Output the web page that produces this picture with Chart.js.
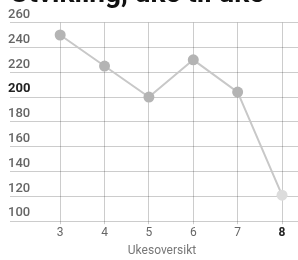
<!DOCTYPE html>
<html>
<head>
<meta charset="utf-8">
<script src="https://cdn.jsdelivr.net/npm/chart.js@4.4.1/dist/chart.umd.min.js"></script>
<style>
  html, body { margin: 0; padding: 0; background: #fff; overflow: hidden; }
  #wrap { position: absolute; left: 0; top: -22px; width: 298px; height: 282px; }
</style>
</head>
<body>
<div id="wrap"><canvas id="chart"></canvas></div>
<script>
const weeks = [3, 4, 5, 6, 7, 8]
const values = [250, 225, 200, 230, 204, 121]
const yTicks = [100, 120, 140, 160, 180, 200, 220, 240, 260]
const title = 'Utvikling, uke til uke'
const xTitle = 'Ukesoversikt'

const grid = 'rgba(0,0,0,0.2)'
const muted = '#666'
const strong = '#222'

new Chart(document.getElementById('chart'), {
  type: 'line',
  data: {
    datasets: [
      {
        label: title,
        data: weeks.map((w, i) => ({ x: w, y: values[i] })),
        borderColor: '#c8c8c8',
        borderWidth: 2,
        pointRadius: 5.5,
        pointBackgroundColor: (ctx) => (ctx.dataIndex === weeks.length - 1 ? '#dcdcdc' : '#b4b4b4'),
        pointBorderWidth: 0,
        tension: 0,
        clip: false,
      },
    ],
  },
  options: {
    responsive: true,
    maintainAspectRatio: false,
    animation: false,
    layout: { autoPadding: false, padding: { left: 10, right: 0, bottom: 0 } },
    plugins: {
      legend: { display: false },
      tooltip: { enabled: false },
      title: {
        display: true,
        text: title,
        align: 'start',
        color: '#111',
        font: { family: 'Roboto', size: 28, weight: 'bold' },
        padding: { top: 0, bottom: 11 },
      },
    },
    scales: {
      x: {
        type: 'linear',
        min: 2.23,
        max: 8.36,
        afterBuildTicks: (axis) => {
          axis.ticks = weeks.map((v) => ({ value: v }))
        },
        afterFit: (axis) => {
          axis.paddingLeft = 0
          axis.paddingRight = 0
        },
        grid: { color: grid, tickLength: 3 },
        border: { display: false },
        ticks: {
          padding: 2,
          color: (ctx) => (ctx.tick && ctx.tick.value === 8 ? strong : muted),
          font: (ctx) => ({
            family: 'Roboto',
            size: 12,
            weight: ctx.tick && ctx.tick.value === 8 ? 'bold' : 'normal',
          }),
          callback: (v) => String(v),
        },
        title: {
          display: true,
          text: xTitle,
          color: '#777',
          font: { family: 'Roboto', size: 12 },
          padding: { top: 1, bottom: 2 },
        },
      },
      y: {
        min: yTicks[0],
        max: yTicks[yTicks.length - 1],
        afterBuildTicks: (axis) => {
          axis.ticks = yTicks.map((v) => ({ value: v }))
        },
        afterFit: (axis) => {
          axis.width = 16
          axis.paddingTop = 0
          axis.paddingBottom = 0
        },
        grid: { color: grid, tickLength: 16 },
        border: { display: false },
        ticks: {
          mirror: true,
          padding: -18,
          labelOffset: -8,
          color: (ctx) => (ctx.tick && ctx.tick.value === 200 ? strong : muted),
          font: (ctx) => ({
            family: 'Roboto',
            size: 13,
            weight: ctx.tick && ctx.tick.value === 200 ? 'bold' : '500',
          }),
        },
      },
    },
  },
})
</script>
</body>
</html>
